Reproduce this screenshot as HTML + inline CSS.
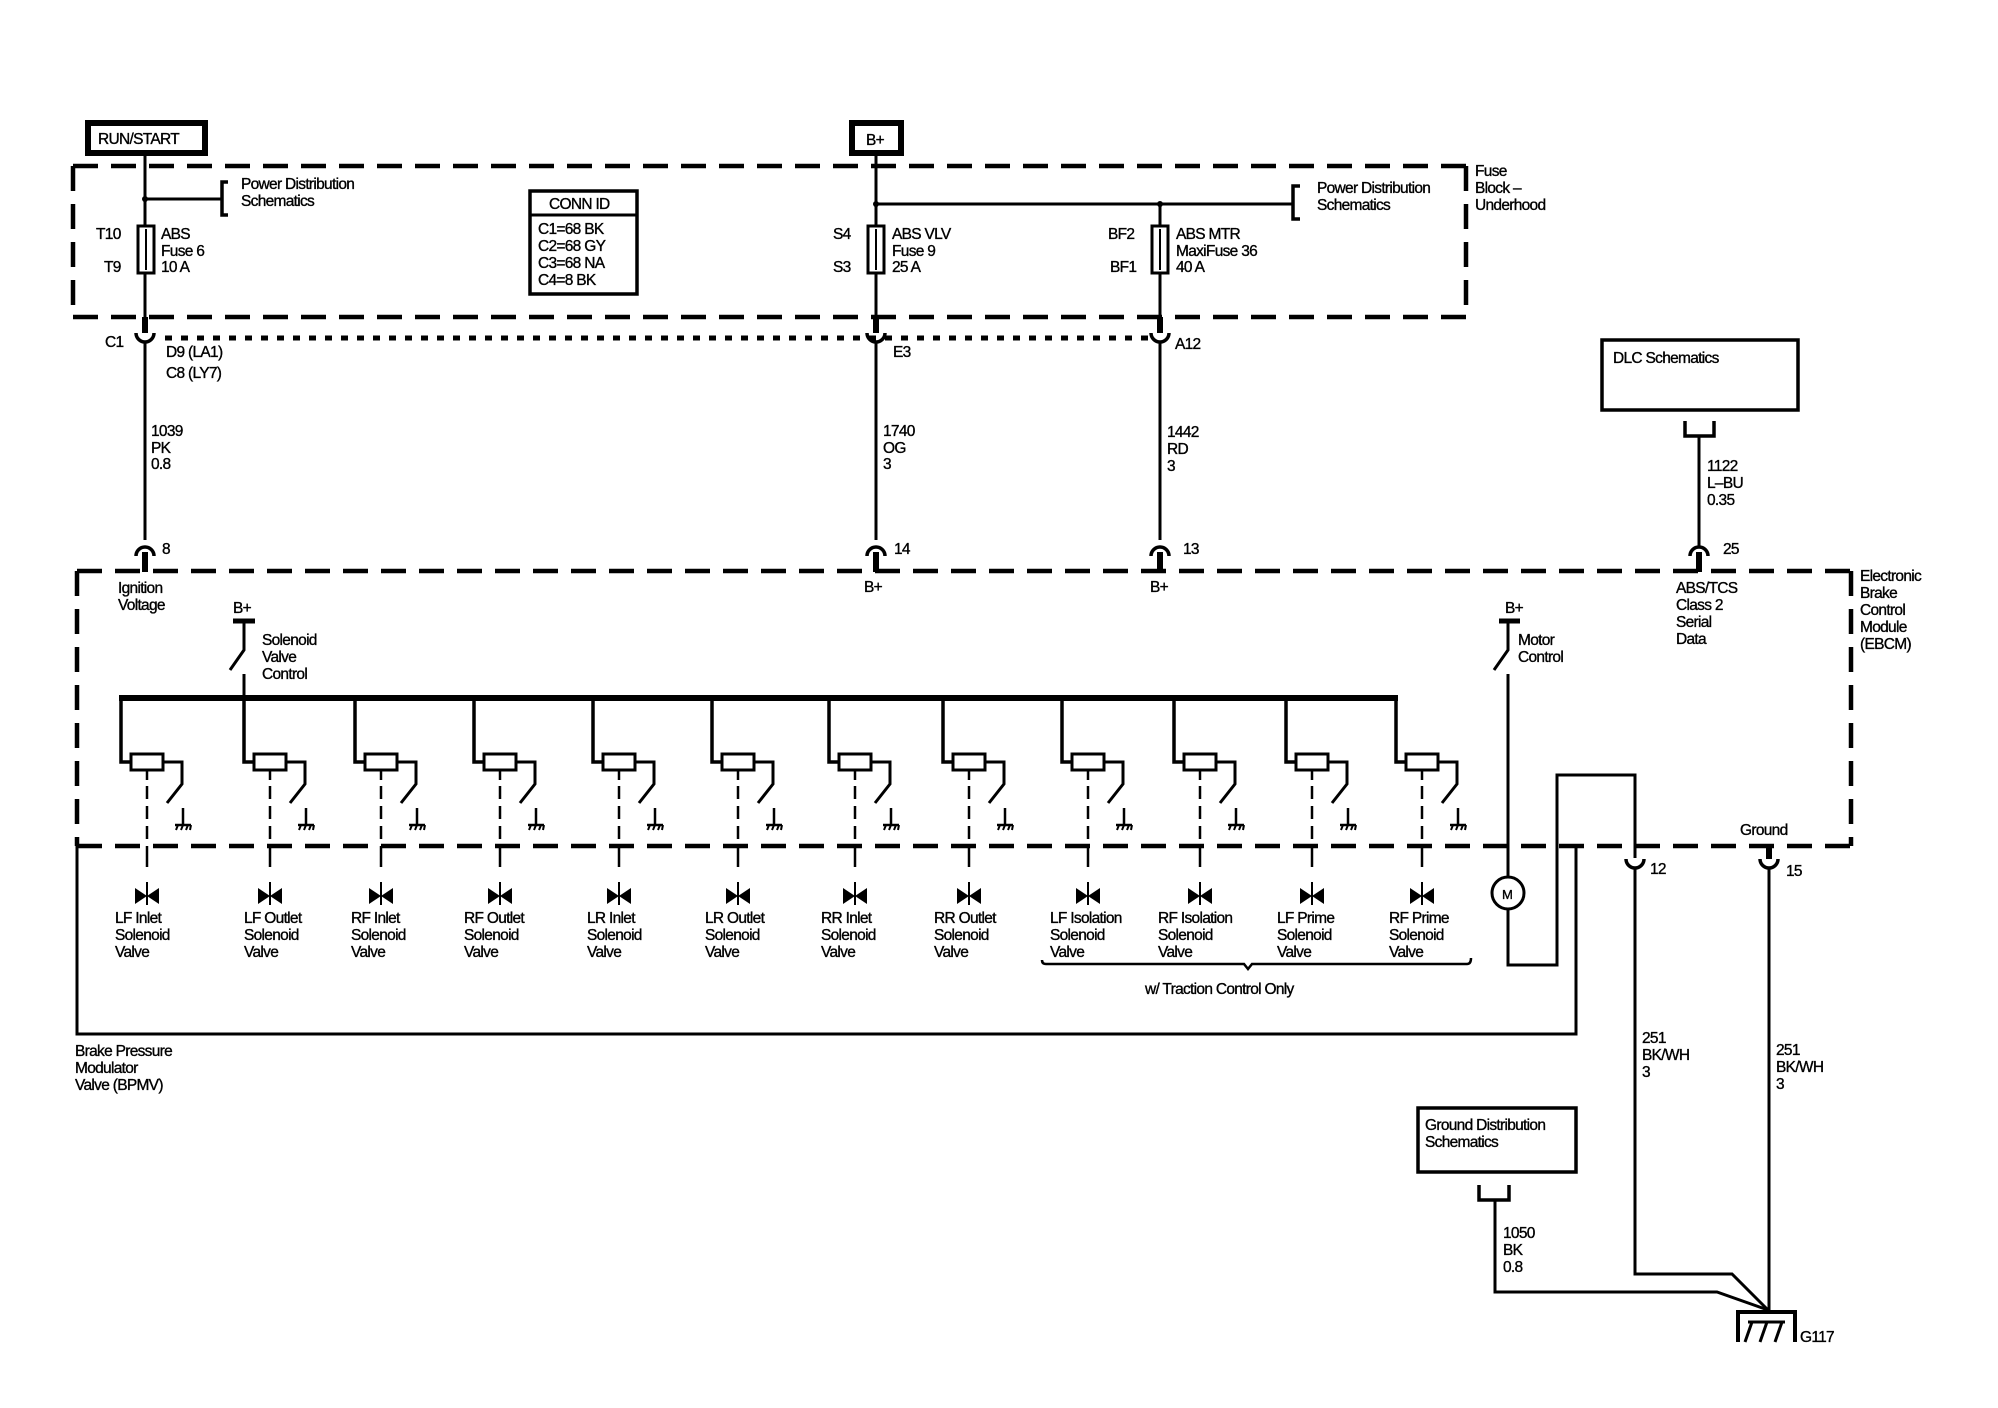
<!DOCTYPE html>
<html><head><meta charset="utf-8"><style>
html,body{margin:0;padding:0;background:#fff}
svg{display:block}
text{font-family:"Liberation Sans",sans-serif;font-size:15.5px;fill:#000;letter-spacing:-0.7px;stroke:#000;stroke-width:0.35px}
</style></head><body>
<svg width="1998" height="1408" viewBox="0 0 1998 1408" xmlns="http://www.w3.org/2000/svg">
<defs>
<g id="sol" fill="none" stroke="#000">
  <path d="M-26 698 V762 H-16" stroke-width="3.5"/>
  <rect x="-16" y="754" width="32" height="16" stroke-width="3" fill="#fff"/>
  <path d="M16 762 H35 V784 L20 803" stroke-width="3"/>
  <path d="M36 808 V825" stroke-width="2.5"/>
  <path d="M28 825 H44" stroke-width="2.5"/>
  <path d="M31 825 l-2 5 M36 825 l-2 5 M41 825 l-2 5 M44 825 l-1 5" stroke-width="2"/>
  <path d="M0 770 V780" stroke-width="2.5"/>
  <path d="M0 786 V840" stroke-width="2.5" stroke-dasharray="13 7"/>
  <path d="M0 846 V867" stroke-width="2.5"/>
  <path d="M0 882 V905" stroke-width="2"/>
  <polygon points="-12,888 0,896 -12,904" fill="#000" stroke="none"/>
  <polygon points="12,888 0,896 12,904" fill="#000" stroke="none"/>
</g>
</defs>

<rect x="88" y="123" width="117" height="30" fill="none" stroke="#000" stroke-width="6"/>
<text x="98" y="144">RUN/START</text>
<rect x="852" y="123" width="49" height="30" fill="none" stroke="#000" stroke-width="6"/>
<text x="866" y="145">B+</text>

<g fill="none" stroke="#000" stroke-width="4.5" stroke-dasharray="25 13">
  <path d="M73 166 H1466"/>
  <path d="M73 317 H1466"/>
  <path d="M73 166 V317"/>
  <path d="M1466 166 V317"/>
</g>
<g stroke="#000" stroke-width="3" fill="none">
  <path d="M145 156 V226 M145 273 V317"/>
  <path d="M145 199 H222"/>
  <path d="M228 182 H222 V215 H228" stroke-width="3.5"/>
  <rect x="138" y="226" width="16" height="47" stroke-width="3"/>
  <path d="M146 229 V270" stroke-width="2"/>
  <path d="M876 156 V226 M876 273 V317"/>
  <path d="M876 204 H1293"/>
  <path d="M1300 186 H1293 V219 H1300" stroke-width="3.5"/>
  <rect x="868" y="226" width="16" height="47"/>
  <path d="M876 229 V270" stroke-width="2"/>
  <path d="M1160 204 V226 M1160 273 V317"/>
  <rect x="1152" y="226" width="16" height="47"/>
  <path d="M1160 229 V270" stroke-width="2"/>
</g>
<circle cx="145" cy="199" r="3"/><circle cx="876" cy="204" r="3"/><circle cx="1160" cy="204" r="3"/>
<text x="241" y="189">Power Distribution</text>
<text x="241" y="206">Schematics</text>
<text x="1317" y="193">Power Distribution</text>
<text x="1317" y="210">Schematics</text>
<text x="1475" y="176">Fuse</text>
<text x="1475" y="193">Block –</text>
<text x="1475" y="210">Underhood</text>
<text x="96" y="239">T10</text><text x="104" y="272">T9</text>
<text x="161" y="239">ABS</text><text x="161" y="256">Fuse 6</text><text x="161" y="272">10 A</text>
<text x="833" y="239">S4</text><text x="833" y="272">S3</text>
<text x="892" y="239">ABS VLV</text><text x="892" y="256">Fuse 9</text><text x="892" y="272">25 A</text>
<text x="1108" y="239">BF2</text><text x="1110" y="272">BF1</text>
<text x="1176" y="239">ABS MTR</text><text x="1176" y="256">MaxiFuse 36</text><text x="1176" y="272">40 A</text>

<rect x="530" y="191" width="107" height="103" fill="none" stroke="#000" stroke-width="3.5"/>
<path d="M530 215 H637" stroke="#000" stroke-width="3"/>
<text x="549" y="209">CONN ID</text>
<text x="538" y="234">C1=68 BK</text>
<text x="538" y="251">C2=68 GY</text>
<text x="538" y="268">C3=68 NA</text>
<text x="538" y="285">C4=8 BK</text>

<path d="M165 338 H1150" stroke="#000" stroke-width="5" stroke-dasharray="7 9"/>
<g fill="none" stroke="#000">
  <path d="M145 317 V333 M876 317 V333 M1160 317 V333" stroke-width="6"/>
  <path d="M136 333 A9 9 0 0 0 154 333 M867 333 A9 9 0 0 0 885 333 M1151 333 A9 9 0 0 0 1169 333" stroke-width="3.5"/>
  <path d="M145 342 V540 M876 342 V540 M1160 342 V540" stroke-width="3"/>
  <path d="M136 556 A9 9 0 0 1 154 556 M867 556 A9 9 0 0 1 885 556 M1151 556 A9 9 0 0 1 1169 556 M1690 556 A9 9 0 0 1 1708 556" stroke-width="3.5"/>
  <path d="M145 552 V572 M876 552 V572 M1160 552 V572 M1699 552 V572" stroke-width="6"/>
</g>
<text x="105" y="347">C1</text>
<text x="166" y="357">D9 (LA1)</text>
<text x="166" y="378">C8 (LY7)</text>
<text x="893" y="357">E3</text>
<text x="1175" y="349">A12</text>
<text x="151" y="436">1039</text><text x="151" y="453">PK</text><text x="151" y="469">0.8</text>
<text x="883" y="436">1740</text><text x="883" y="453">OG</text><text x="883" y="469">3</text>
<text x="1167" y="437">1442</text><text x="1167" y="454">RD</text><text x="1167" y="471">3</text>
<text x="162" y="554">8</text><text x="894" y="554">14</text><text x="1183" y="554">13</text><text x="1723" y="554">25</text>

<rect x="1602" y="340" width="196" height="70" fill="none" stroke="#000" stroke-width="3.5"/>
<text x="1613" y="363">DLC Schematics</text>
<path d="M1685 421 V436 H1714 V421" fill="none" stroke="#000" stroke-width="3.5"/>
<path d="M1699 436 V548" stroke="#000" stroke-width="3"/>
<text x="1707" y="471">1122</text><text x="1707" y="488">L–BU</text><text x="1707" y="505">0.35</text>

<g fill="none" stroke="#000" stroke-width="4.5" stroke-dasharray="25 13">
  <path d="M77 571 H1851"/>
  <path d="M77 846 H1851"/>
  <path d="M77 571 V846"/>
  <path d="M1851 571 V846"/>
</g>
<text x="1860" y="581">Electronic</text><text x="1860" y="598">Brake</text><text x="1860" y="615">Control</text><text x="1860" y="632">Module</text><text x="1860" y="649">(EBCM)</text>
<text x="118" y="593">Ignition</text><text x="118" y="610">Voltage</text>
<text x="864" y="592">B+</text><text x="1150" y="592">B+</text>
<text x="1676" y="593">ABS/TCS</text><text x="1676" y="610">Class 2</text><text x="1676" y="627">Serial</text><text x="1676" y="644">Data</text>

<text x="233" y="613">B+</text>
<g fill="none" stroke="#000">
  <path d="M233 621 H255" stroke-width="5"/>
  <path d="M244 621 V650 L230 670" stroke-width="3"/>
  <path d="M244 674 V700" stroke-width="3"/>
  <path d="M119 698 H1398" stroke-width="6"/>
</g>
<text x="262" y="645">Solenoid</text><text x="262" y="662">Valve</text><text x="262" y="679">Control</text>

<use href="#sol" x="147"/><use href="#sol" x="270"/><use href="#sol" x="381"/><use href="#sol" x="500"/>
<use href="#sol" x="619"/><use href="#sol" x="738"/><use href="#sol" x="855"/><use href="#sol" x="969"/>
<use href="#sol" x="1088"/><use href="#sol" x="1200"/><use href="#sol" x="1312"/><use href="#sol" x="1422"/>
<g>
<circle cx="355" cy="698" r="3"/><circle cx="474" cy="698" r="3"/><circle cx="593" cy="698" r="3"/><circle cx="712" cy="698" r="3"/><circle cx="829" cy="698" r="3"/><circle cx="943" cy="698" r="3"/><circle cx="1062" cy="698" r="3"/><circle cx="1174" cy="698" r="3"/><circle cx="1286" cy="698" r="3"/>
</g>

<g>
<text x="115" y="923">LF Inlet</text><text x="115" y="940">Solenoid</text><text x="115" y="957">Valve</text>
<text x="244" y="923">LF Outlet</text><text x="244" y="940">Solenoid</text><text x="244" y="957">Valve</text>
<text x="351" y="923">RF Inlet</text><text x="351" y="940">Solenoid</text><text x="351" y="957">Valve</text>
<text x="464" y="923">RF Outlet</text><text x="464" y="940">Solenoid</text><text x="464" y="957">Valve</text>
<text x="587" y="923">LR Inlet</text><text x="587" y="940">Solenoid</text><text x="587" y="957">Valve</text>
<text x="705" y="923">LR Outlet</text><text x="705" y="940">Solenoid</text><text x="705" y="957">Valve</text>
<text x="821" y="923">RR Inlet</text><text x="821" y="940">Solenoid</text><text x="821" y="957">Valve</text>
<text x="934" y="923">RR Outlet</text><text x="934" y="940">Solenoid</text><text x="934" y="957">Valve</text>
<text x="1050" y="923">LF Isolation</text><text x="1050" y="940">Solenoid</text><text x="1050" y="957">Valve</text>
<text x="1158" y="923">RF Isolation</text><text x="1158" y="940">Solenoid</text><text x="1158" y="957">Valve</text>
<text x="1277" y="923">LF Prime</text><text x="1277" y="940">Solenoid</text><text x="1277" y="957">Valve</text>
<text x="1389" y="923">RF Prime</text><text x="1389" y="940">Solenoid</text><text x="1389" y="957">Valve</text>
</g>
<path d="M1042 960 Q1042 964 1046 964 H1244 L1248 969 L1252 964 H1467 Q1471 964 1471 958" fill="none" stroke="#000" stroke-width="2.5"/>
<text x="1145" y="994">w/ Traction Control Only</text>

<path d="M77 846 V1034 H1576 V846" fill="none" stroke="#000" stroke-width="3"/>
<text x="75" y="1056">Brake Pressure</text><text x="75" y="1073">Modulator</text><text x="75" y="1090">Valve (BPMV)</text>

<text x="1505" y="613">B+</text>
<g fill="none" stroke="#000">
  <path d="M1499 621 H1520" stroke-width="5"/>
  <path d="M1508 621 V650 L1494 670" stroke-width="3"/>
  <path d="M1508 674 V876 M1508 910 V965 H1557 V775 H1635 V858" stroke-width="3"/>
  <circle cx="1508" cy="893" r="16" stroke-width="3" fill="#fff"/>
</g>
<text x="1502" y="899" style="font-size:13px">M</text>
<text x="1518" y="645">Motor</text><text x="1518" y="662">Control</text>

<g fill="none" stroke="#000">
  <path d="M1769 846 V859" stroke-width="6"/>
  <path d="M1626 859 A9 9 0 0 0 1644 859 M1760 859 A9 9 0 0 0 1778 859" stroke-width="3.5"/>
  <path d="M1635 868 V1274 H1732 L1768 1310" stroke-width="3"/>
  <path d="M1769 868 V1312" stroke-width="3"/>
  <path d="M1495 1200 V1292 H1717 L1768 1310" stroke-width="3"/>
  <path d="M1479 1185 V1200 H1509 V1185" stroke-width="3.5"/>
  <path d="M1738 1342 V1312 H1795 V1342" stroke-width="4"/>
  <path d="M1745 1342 L1752 1322 M1760 1342 L1767 1322 M1775 1342 L1782 1322 M1748 1322 H1785" stroke-width="3"/>
</g>
<text x="1740" y="835">Ground</text>
<text x="1650" y="874">12</text><text x="1786" y="876">15</text>
<text x="1642" y="1043">251</text><text x="1642" y="1060">BK/WH</text><text x="1642" y="1077">3</text>
<text x="1776" y="1055">251</text><text x="1776" y="1072">BK/WH</text><text x="1776" y="1089">3</text>
<rect x="1418" y="1108" width="158" height="64" fill="none" stroke="#000" stroke-width="3.5"/>
<text x="1425" y="1130">Ground Distribution</text><text x="1425" y="1147">Schematics</text>
<text x="1503" y="1238">1050</text><text x="1503" y="1255">BK</text><text x="1503" y="1272">0.8</text>
<text x="1800" y="1342">G117</text>
</svg>
</body></html>
